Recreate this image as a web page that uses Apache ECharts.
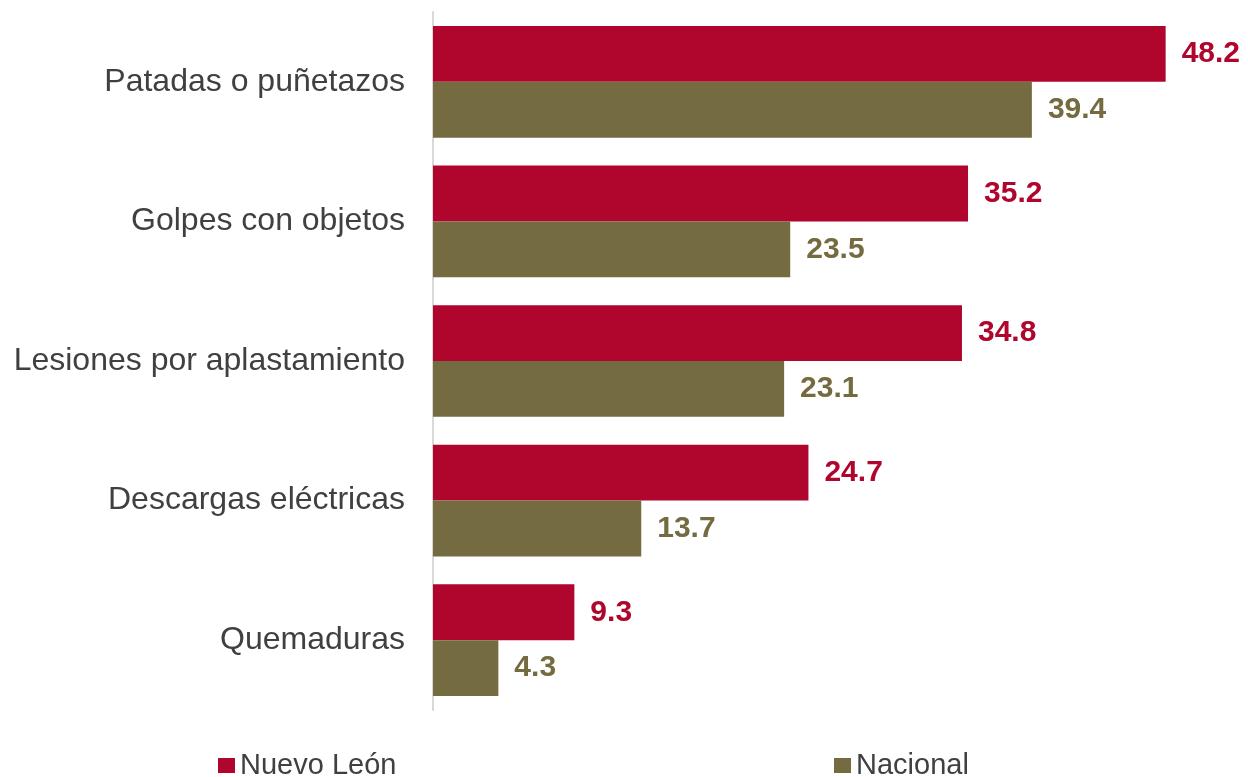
<!DOCTYPE html>
<html><head><meta charset="utf-8">
<script src="https://cdn.jsdelivr.net/npm/echarts@6/dist/echarts.min.js"></script>
<style>html,body{margin:0;padding:0;background:#fff}#c{width:1248px;height:777px}</style>
</head><body><div id="c"></div>
<script>
const categories = ["Patadas o puñetazos","Golpes con objetos","Lesiones por aplastamiento","Descargas eléctricas","Quemaduras"];
const nuevoLeon = [48.2, 35.2, 34.8, 24.7, 9.3];
const nacional = [39.4, 23.5, 23.1, 13.7, 4.3];
const seriesNames = ["Nuevo León","Nacional"];
const RED = "#B0052D", OLIVE = "#746B41";
const chart = echarts.init(document.getElementById('c'));
const lbl = (c) => ({show:true, position:'right', distance:16, color:c, fontFamily:'Liberation Sans', fontWeight:'bold', fontSize:30, formatter: p => p.value.toFixed(1)});
chart.setOption({
  animation:false,
  grid:{left:433, right:55, top:12, bottom:67, containLabel:false},
  xAxis:{type:'value', min:0, max:50, show:false},
  yAxis:{type:'category', data:categories, inverse:true,
    axisLine:{show:true, lineStyle:{color:'#D9D9D9', width:2}}, axisTick:{show:false},
    axisLabel:{margin:28, fontFamily:'Liberation Sans', fontSize:32, color:'#404040'}},
  legend:[
    {data:[seriesNames[0]], left:213, top:746, itemWidth:17, itemHeight:15, icon:'rect',
     textStyle:{fontFamily:'Liberation Sans', fontSize:29, color:'#404040'}},
    {data:[seriesNames[1]], left:829, top:746, itemWidth:17, itemHeight:15, icon:'rect',
     textStyle:{fontFamily:'Liberation Sans', fontSize:29, color:'#404040'}}
  ],
  series:[
    {name:seriesNames[0], type:'bar', data:nuevoLeon, itemStyle:{color:RED}, barGap:'0%', barCategoryGap:'20%', label:lbl(RED)},
    {name:seriesNames[1], type:'bar', data:nacional, itemStyle:{color:OLIVE}, barGap:'0%', barCategoryGap:'20%', label:lbl(OLIVE)}
  ]
});
</script></body></html>
